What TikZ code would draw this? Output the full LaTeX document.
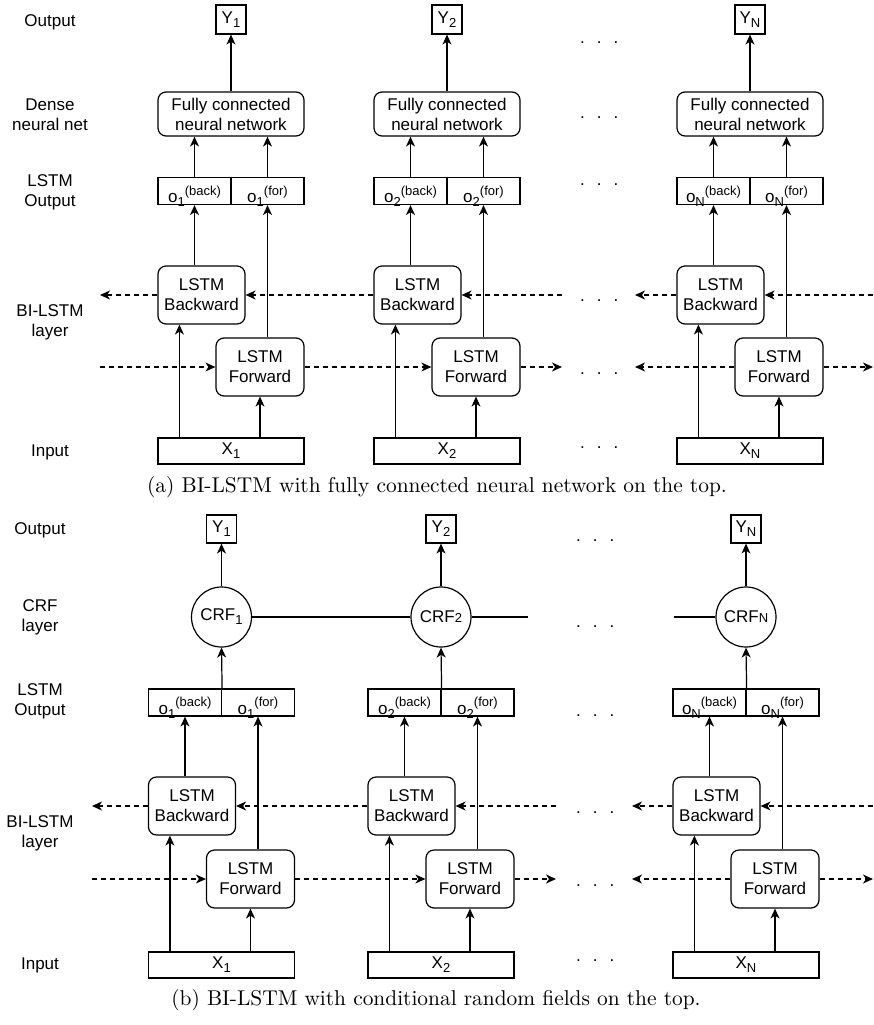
\documentclass[tikz,border=0pt]{standalone}
\usepackage{fontspec}
\newfontfamily\arialf{Liberation Sans}
\newfontfamily\capfont{lmroman10-regular.otf}
\usetikzlibrary{arrows.meta,calc}
\newcommand\mysub[1]{\raisebox{-4pt}{\fontsize{13}{13}\selectfont #1}}
\newcommand\mysup[1]{\raisebox{7.5pt}{\fontsize{13}{13}\selectfont #1}}
\newcommand\mysmall[1]{{\fontsize{13}{13}\selectfont #1}}
\begin{document}
\begin{tikzpicture}[x=1pt,y=-1pt,
  every node/.style={font=\arialf\fontsize{17}{20}\selectfont, inner sep=0pt, align=center},
  bx/.style={draw, line width=1.2pt},
  rbx/.style={bx, rounded corners=8pt},
  ybox/.style={bx, minimum width=30pt, minimum height=29pt},
  obox/.style={bx, minimum width=73pt, minimum height=27pt, text height=23pt, text depth=0pt},
  fcbox/.style={rbx, minimum width=146pt, minimum height=44pt},
  bwbox/.style={rbx, minimum width=87pt, minimum height=58pt},
  fwbox/.style={rbx, minimum width=88pt, minimum height=58pt},
  xbox/.style={bx, minimum width=146pt, minimum height=26pt},
  crf/.style={bx, circle, minimum size=60pt},
  ln/.style={line width=1.2pt},
  arr/.style={line width=1.2pt, -{Stealth[length=10pt,width=9pt,inset=3pt]}},
  darr/.style={arr, dash pattern=on 5pt off 4pt},
  lbl/.style={},
  dotrow/.style={anchor=base west},
  captext/.style={font=\capfont\fontsize{21.4}{24}\selectfont}
]
\useasboundingbox (0,0) rectangle (873,1025);

% ---------------- panel (a) ----------------
\node[lbl] (la1) at (50,22) {Output};
\node[lbl] (la2) at (50,115) {Dense\\neural net};
\node[lbl] (la3) at (50,192.5) {LSTM\\Output};
\node[lbl] (la4) at (50,322) {BI-LSTM\\layer};
\node[lbl] (la5) at (50,452) {Input};

\foreach \L/\s/\n in {158/1/1, 374/2/2, 677/N/3} {
  \node[ybox] (Ya\n) at ({\L+73},19.5) {Y\mysub{\s}};
  \node[fcbox] (FCa\n) at ({\L+73},114) {Fully connected\\neural network};
  \node[obox] (OBa\n) at ({\L+36.5},191) {o\mysub{\s}\mysup{(back)}};
  \node[obox] (OFa\n) at ({\L+109.5},191) {o\mysub{\s}\mysup{(for)}};
  \node[bwbox] (Ba\n) at ({\L+43.5},295) {LSTM\\Backward};
  \node[fwbox] (Fa\n) at ({\L+102},367) {LSTM\\Forward};
  \node[xbox] (Xa\n) at ({\L+73},451) {X\mysub{\s}};
  \coordinate (xba\n) at ([xshift=22pt]Xa\n.north west);
  \draw[arr] (FCa\n) -- (Ya\n);
  \draw[arr] (OBa\n.north) -- (OBa\n.north |- FCa\n.south);
  \draw[arr] (OFa\n.north) -- (OFa\n.north |- FCa\n.south);
  \draw[arr] (OBa\n.south |- Ba\n.north) -- (OBa\n.south);
  \draw[arr] (OFa\n.south |- Fa\n.north) -- (OFa\n.south);
  \draw[arr] (xba\n) -- (xba\n |- Ba\n.south);
  \draw[arr] (Xa\n.north -| Fa\n) -- (Fa\n.south);
}
\coordinate (bla1) at (100,295);
\coordinate (fla1) at (100,367);
\coordinate (bra2) at (562,295);
\coordinate (fra2) at (562,367);
\coordinate (bla3) at (635,295);
\coordinate (fla3) at (635,367);
\coordinate (bra3) at (873,295);
\coordinate (fra3) at (873,367);
\draw[darr] (Ba1.west) -- (bla1);
\draw[darr] (fla1) -- (Fa1.west);
\draw[darr] (Ba2.west) -- (Ba1.east);
\draw[darr] (Fa1.east) -- (Fa2.west);
\draw[darr] (bra2) -- (Ba2.east);
\draw[darr] (Fa2.east) -- (fra2);
\draw[darr] (Ba3.west) -- (bla3);
\draw[darr] (Fa3.west) -- (fla3);
\draw[darr] (bra3) -- (Ba3.east);
\draw[darr] (Fa3.east) -- (fra3);

\foreach \y [count=\i] in {43,117,184,300,373,447} {
  \node[dotrow] (dta\i) at (580,{\y+1}) {.\hspace{12pt}.\hspace{12pt}.};
}

\node[captext] (capa) at (437,487) {(a) BI-LSTM with fully connected neural network on the top.};

% ---------------- panel (b) ----------------
\node[lbl] (lb1) at (40,530) {Output};
\node[lbl] (lb2) at (40,617) {CRF\\layer};
\node[lbl] (lb3) at (40,701.5) {LSTM\\Output};
\node[lbl] (lb4) at (40,833) {BI-LSTM\\layer};
\node[lbl] (lb5) at (40,965) {Input};

\foreach \L/\s/\n/\c in {148.5/1/1/{CRF\mysub{1}}, 368/2/2/{CRF\mysmall{2}}, 673/N/3/{CRF\mysmall{N}}} {
  \node[ybox, minimum height=28pt] (Yb\n) at ({\L+73},529) {Y\mysub{\s}};
  \node[crf] (Cb\n) at ({\L+73},617) {\c};
  \node[obox] (OBb\n) at ({\L+36.5},702.5) {o\mysub{\s}\mysup{(back)}};
  \node[obox] (OFb\n) at ({\L+109.5},702.5) {o\mysub{\s}\mysup{(for)}};
  \node[bwbox] (Bb\n) at ({\L+43.5},806) {LSTM\\Backward};
  \node[fwbox] (Fb\n) at ({\L+102},879) {LSTM\\Forward};
  \node[xbox] (Xb\n) at ({\L+73},965) {X\mysub{\s}};
  \coordinate (xbb\n) at ([xshift=22pt]Xb\n.north west);
  \draw[arr] (Cb\n) -- (Yb\n);
  \draw[arr] (OBb\n.north east) -- (Cb\n.south);
  \draw[arr] (OBb\n.south |- Bb\n.north) -- (OBb\n.south);
  \draw[arr] (OFb\n.south |- Fb\n.north) -- (OFb\n.south);
  \draw[arr] (xbb\n) -- (xbb\n |- Bb\n.south);
  \draw[arr] (Xb\n.north -| Fb\n) -- (Fb\n.south);
}
\coordinate (crfr2) at (528,617);
\coordinate (crfl3) at (674,617);
\draw[ln] (Cb1) -- (Cb2);
\draw[ln] (Cb2.east) -- (crfr2);
\draw[ln] (crfl3) -- (Cb3.west);

\coordinate (blb1) at (92,806);
\coordinate (flb1) at (92,879);
\coordinate (brb2) at (556,806);
\coordinate (frb2) at (556,879);
\coordinate (blb3) at (632,806);
\coordinate (flb3) at (632,879);
\coordinate (brb3) at (873,806);
\coordinate (frb3) at (873,879);
\draw[darr] (Bb1.west) -- (blb1);
\draw[darr] (flb1) -- (Fb1.west);
\draw[darr] (Bb2.west) -- (Bb1.east);
\draw[darr] (Fb1.east) -- (Fb2.west);
\draw[darr] (brb2) -- (Bb2.east);
\draw[darr] (Fb2.east) -- (frb2);
\draw[darr] (Bb3.west) -- (blb3);
\draw[darr] (Fb3.west) -- (flb3);
\draw[darr] (brb3) -- (Bb3.east);
\draw[darr] (Fb3.east) -- (frb3);

\foreach \y [count=\i] in {540,626,715,812,885,960} {
  \node[dotrow] (dtb\i) at (576,{\y+1}) {.\hspace{12pt}.\hspace{12pt}.};
}

\node[captext] (capb) at (436,1000) {(b) BI-LSTM with conditional random fields on the top.};
\end{tikzpicture}
\end{document}
